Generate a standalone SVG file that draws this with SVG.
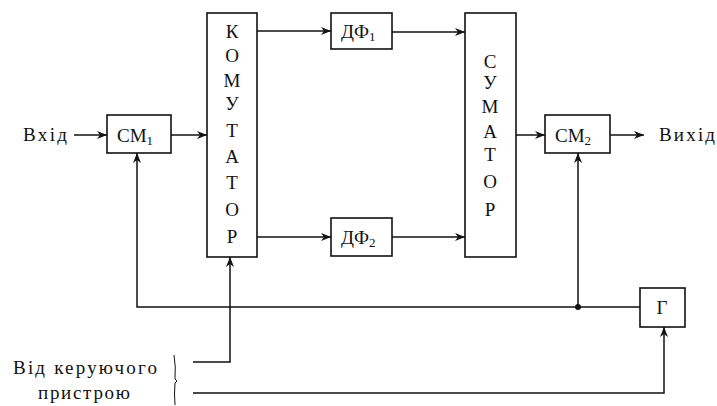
<svg xmlns="http://www.w3.org/2000/svg" width="717" height="406" viewBox="0 0 717 406">
<style>
.box{fill:#fff;stroke:#111;stroke-width:1.6}
.ln{fill:none;stroke:#111;stroke-width:1.5}
.t{font-family:"Liberation Serif","DejaVu Serif",serif;font-size:19px;fill:#111}
.v{font-family:"Liberation Serif","DejaVu Serif",serif;font-size:19px;fill:#111;text-anchor:middle}
.s{font-size:13px}
</style>
<defs>
<marker id="ar" viewBox="0 0 10 8" refX="10" refY="4" markerWidth="10" markerHeight="8" markerUnits="userSpaceOnUse" orient="auto">
<path d="M0,0 L10,4 L0,8 L3,4 z" fill="#111"/>
</marker>
</defs>
<g id="connectors">
<line class="ln" x1="74" y1="135" x2="107" y2="135" marker-end="url(#ar)"/>
<line class="ln" x1="171" y1="135" x2="207" y2="135" marker-end="url(#ar)"/>
<line class="ln" x1="257" y1="31" x2="331" y2="31" marker-end="url(#ar)"/>
<line class="ln" x1="257" y1="237" x2="331" y2="237" marker-end="url(#ar)"/>
<line class="ln" x1="392" y1="32" x2="465" y2="32" marker-end="url(#ar)"/>
<line class="ln" x1="392" y1="237" x2="465" y2="237" marker-end="url(#ar)"/>
<line class="ln" x1="516" y1="135" x2="545" y2="135" marker-end="url(#ar)"/>
<line class="ln" x1="610" y1="135" x2="644" y2="135" marker-end="url(#ar)"/>
<polyline class="ln" points="640,307 137,307 137,153" marker-end="url(#ar)"/>
<line class="ln" x1="578" y1="307" x2="578" y2="153" marker-end="url(#ar)"/>
<circle cx="578" cy="307" r="3" fill="#111"/>
<polyline class="ln" points="193,362 230,362 230,257" marker-end="url(#ar)"/>
<polyline class="ln" points="193,393 664,393 664,327" marker-end="url(#ar)"/>
</g>
<g id="in-label"><text class="t" x="23" y="141" textLength="44">Вхід</text></g>
<g id="cm1"><rect class="box" x="107" y="115" width="64" height="38"/><text class="t" x="117" y="142">CM<tspan class="s" dy="3">1</tspan></text></g>
<g id="komutator"><rect class="box" x="207" y="13" width="50" height="244"/>
<text class="v" x="232" y="38">К</text><text class="v" x="232" y="62">О</text><text class="v" x="232" y="87">М</text><text class="v" x="232" y="110">У</text><text class="v" x="232" y="137">Т</text><text class="v" x="232" y="163">А</text><text class="v" x="232" y="189">Т</text><text class="v" x="232" y="216">О</text><text class="v" x="232" y="243">Р</text></g>
<g id="df1"><rect class="box" x="331" y="13" width="61" height="36"/><text class="t" x="341" y="38">ДФ<tspan class="s" dy="3">1</tspan></text></g>
<g id="df2"><rect class="box" x="331" y="218" width="61" height="38"/><text class="t" x="341" y="244">ДФ<tspan class="s" dy="3">2</tspan></text></g>
<g id="sumator"><rect class="box" x="465" y="13" width="51" height="244"/>
<text class="v" x="490" y="68">С</text><text class="v" x="490" y="89">У</text><text class="v" x="490" y="113">М</text><text class="v" x="490" y="138">А</text><text class="v" x="490" y="161">Т</text><text class="v" x="490" y="188">О</text><text class="v" x="490" y="216">Р</text></g>
<g id="cm2"><rect class="box" x="545" y="115" width="65" height="38"/><text class="t" x="555" y="142">CM<tspan class="s" dy="3">2</tspan></text></g>
<g id="out-label"><text class="t" x="659" y="141" textLength="56">Вихід</text></g>
<g id="g"><rect class="box" x="640" y="288" width="45" height="39"/><text class="v" x="662" y="314">Г</text></g>
<g id="control-label">
<text class="t" x="13" y="374" textLength="144">Від керуючого</text>
<text class="t" x="38" y="399" textLength="92">пристрою</text>
<path class="ln" d="M174,355 Q176,367 175,379 L177,381 L175,383 Q174,394 175,405" style="stroke-width:1"/>
</g>
</svg>
